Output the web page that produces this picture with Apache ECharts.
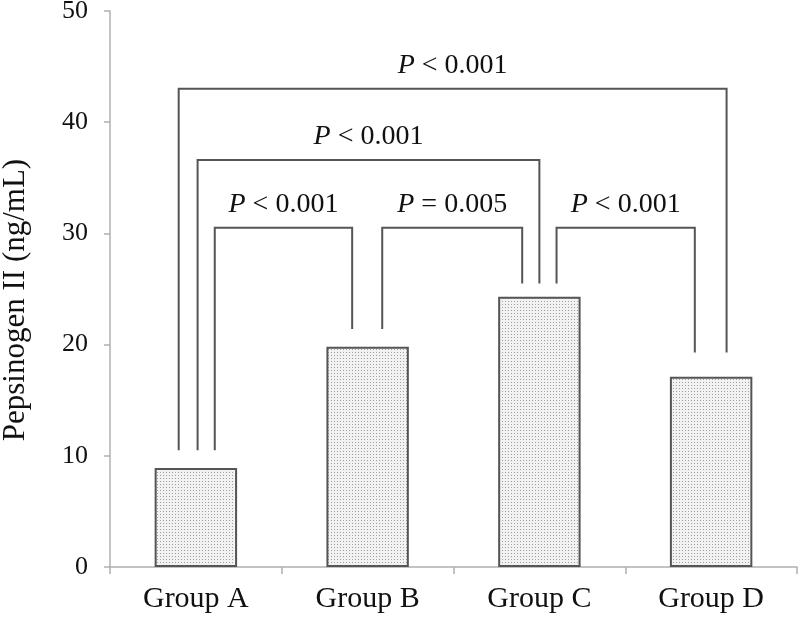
<!DOCTYPE html>
<html>
<head>
<meta charset="utf-8">
<script src="https://cdn.jsdelivr.net/npm/echarts@6/dist/echarts.min.js"></script>
<style>
  html, body { margin: 0; padding: 0; background: #fff; }
  #target { width: 800px; height: 621px; }
</style>
</head>
<body>
<div id="target"></div>
<script>
// 数据
const categories = ["Group A", "Group B", "Group C", "Group D"];
const values = [8.9, 19.8, 24.3, 17.1];
const yTicks = [0, 10, 20, 30, 40, 50];

// 显著性括号: 起点组, 偏移, 终点组, 偏移, 顶部, 左端, 右端
const bracketFrom = [0, 0, 0, 1, 2];
const bracketFromOff = [-0.1, 0.01, 0.11, 0.085, 0.1];
const bracketTo = [3, 2, 1, 2, 3];
const bracketToOff = [0.09, 0, -0.09, -0.1, -0.095];
const bracketTop = [43.0, 36.6, 30.5, 30.5, 30.5];
const bracketLeftEnd = [10.5, 10.5, 10.5, 21.4, 25.5];
const bracketRightEnd = [19.3, 25.5, 21.4, 25.5, 19.3];
const pLabels = ["< 0.001", "< 0.001", "< 0.001", "= 0.005", "< 0.001"];

const serif = "'Liberation Serif', 'DejaVu Serif', serif";
const axisGray = "#aeb0b4";
const lineGray = "#555";

// 点状填充
const makePattern = () => {
  const c = document.createElement("canvas");
  c.width = 3;
  c.height = 3;
  const ctx = c.getContext("2d");
  ctx.fillStyle = "#f2f2f2";
  ctx.fillRect(0, 0, 3, 3);
  ctx.fillStyle = "#a0a0a0";
  ctx.fillRect(1, 1, 1, 1);
  return c;
};

const bracketData = bracketFrom.map((f, i) => [
  f, bracketFromOff[i], bracketTo[i], bracketToOff[i],
  bracketTop[i], bracketLeftEnd[i], bracketRightEnd[i]
]);

const mChart = echarts.init(document.getElementById("target"));
const option = {
  animation: false,
  grid: { left: 110, right: 3, top: 11, bottom: 54, containLabel: false, outerBoundsMode: "none" },
  xAxis: {
    type: "category",
    data: categories,
    axisLine: { lineStyle: { color: axisGray, width: 1.5 } },
    axisTick: { show: true, length: 7, lineStyle: { color: axisGray, width: 1.5 } },
    axisLabel: { color: "#111", fontFamily: serif, fontSize: 30, margin: 17 },
  },
  yAxis: {
    type: "value",
    min: 0,
    max: 50,
    interval: 10,
    name: "Pepsinogen II (ng/mL)",
    nameLocation: "middle",
    nameGap: 79,
    nameTextStyle: { color: "#111", fontFamily: serif, fontSize: 31, padding: [0, 22, 0, 0] },
    splitLine: { show: false },
    axisLine: { show: true, lineStyle: { color: axisGray, width: 1.5 } },
    axisTick: { show: true, length: 6, lineStyle: { color: axisGray, width: 1.5 } },
    axisLabel: {
      color: "#111", fontFamily: serif, fontSize: 26, margin: 22,
      formatter: (v) => (yTicks.includes(v) ? String(v) : ""),
    },
  },
  series: [
    {
      type: "bar",
      data: values,
      barWidth: "48%",
      itemStyle: {
        color: { image: makePattern(), repeat: "repeat" },
        borderColor: lineGray,
        borderWidth: 2,
      },
    },
    {
      type: "custom",
      clip: false,
      data: bracketData,
      encode: { x: 0, y: 4 },
      renderItem: (params, api) => {
        const band = api.size([1, 0])[0];
        const x1 = api.coord([api.value(0), 0])[0] + api.value(1) * band;
        const x2 = api.coord([api.value(2), 0])[0] + api.value(3) * band;
        const yTop = api.coord([0, api.value(4)])[1];
        const yL = api.coord([0, api.value(5)])[1];
        const yR = api.coord([0, api.value(6)])[1];
        return {
          type: "group",
          children: [
            {
              type: "polyline",
              shape: { points: [[x1, yL], [x1, yTop], [x2, yTop], [x2, yR]] },
              style: { stroke: lineGray, lineWidth: 2, fill: null },
            },
            {
              type: "text",
              x: (x1 + x2) / 2,
              y: yTop - 9,
              style: {
                text: "{i|P} " + pLabels[params.dataIndex],
                align: "center",
                verticalAlign: "bottom",
                fill: "#111",
                font: "28px " + serif,
                rich: {
                  i: { fontStyle: "italic", fontSize: 28, fontFamily: serif, fill: "#111" },
                },
              },
            },
          ],
        };
      },
    },
  ],
};
mChart.setOption(option);
</script>
</body>
</html>
